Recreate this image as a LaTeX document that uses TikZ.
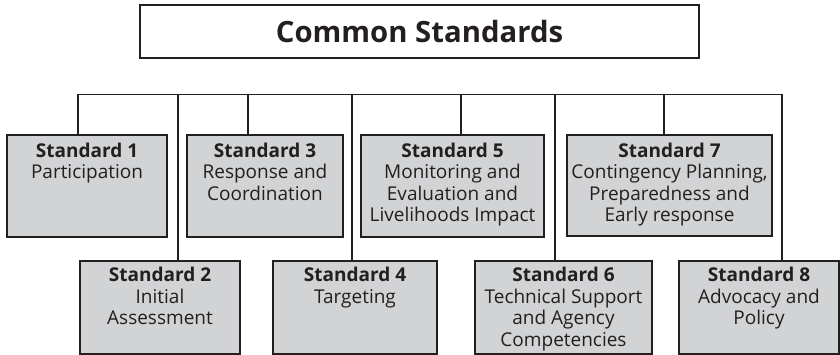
\documentclass[tikz,border=0pt]{standalone}
\usepackage{fontspec}
\setmainfont{Open Sans}
\definecolor{boxfill}{HTML}{D1D3D4}
\definecolor{ink}{HTML}{231F20}
\newcommand{\stdlabel}[5]{\parbox[c][#2pt][t]{#1pt}{\centering\fontsize{19}{21.5}\selectfont\rule{0pt}{#3pt}\textbf{#4}\\#5}}
\tikzset{
  stdbox/.style={draw=ink, fill=boxfill, line width=1.4pt, inner sep=0pt, text=ink},
  titlebox/.style={draw=ink, fill=white, line width=1.4pt, inner sep=0pt, text=ink, font=\fontsize{29.3}{34}\selectfont\bfseries},
  busline/.style={draw=ink, line width=1.4pt}
}
\begin{document}
\begin{tikzpicture}[x=1pt,y=-1pt]
\useasboundingbox (0,0) rectangle (840,355);
\node[titlebox, minimum width=559pt, minimum height=53pt] (top) at (419.5,31.5) {Common Standards};
\node[stdbox] (s1) at (87,186) {\stdlabel{160}{102}{22.5}{Standard 1}{Participation}};
\node[stdbox] (s2) at (160,307.5) {\stdlabel{160}{93}{20.5}{Standard 2}{Initial\\Assessment}};
\node[stdbox] (s3) at (265,186) {\stdlabel{156}{102}{22.5}{Standard 3}{Response and\\Coordination}};
\node[stdbox] (s4) at (355,307.5) {\stdlabel{164}{93}{20.5}{Standard 4}{Targeting}};
\node[stdbox] (s5) at (452.5,186) {\stdlabel{183}{102}{22.5}{Standard 5}{Monitoring and\\Evaluation and\\Livelihoods Impact}};
\node[stdbox] (s6) at (563.5,307.5) {\stdlabel{177}{93}{20.5}{Standard 6}{Technical Support\\and Agency\\Competencies}};
\node[stdbox] (s7) at (669.5,185.5) {\stdlabel{205}{101}{22.5}{Standard 7}{Contingency Planning,\\Preparedness and\\Early response}};
\node[stdbox] (s8) at (759,307.5) {\stdlabel{160}{93}{20.5}{Standard 8}{Advocacy and\\Policy}};
\coordinate (t1) at (78,94.5);
\coordinate (t2) at (178,94.5);
\coordinate (t3) at (248,94.5);
\coordinate (t4) at (352,94.5);
\coordinate (t5) at (461,94.5);
\coordinate (t6) at (555,94.5);
\coordinate (t7) at (664,94.5);
\coordinate (t8) at (782,94.5);
\draw[busline, line cap=rect] (t1) -- (t8);
\draw[busline] (t1) -- (t1 |- s1.north);
\draw[busline] (t2) -- (t2 |- s2.north);
\draw[busline] (t3) -- (t3 |- s3.north);
\draw[busline] (t4) -- (t4 |- s4.north);
\draw[busline] (t5) -- (t5 |- s5.north);
\draw[busline] (t6) -- (t6 |- s6.north);
\draw[busline] (t7) -- (t7 |- s7.north);
\draw[busline] (t8) -- (t8 |- s8.north);
\end{tikzpicture}
\end{document}
